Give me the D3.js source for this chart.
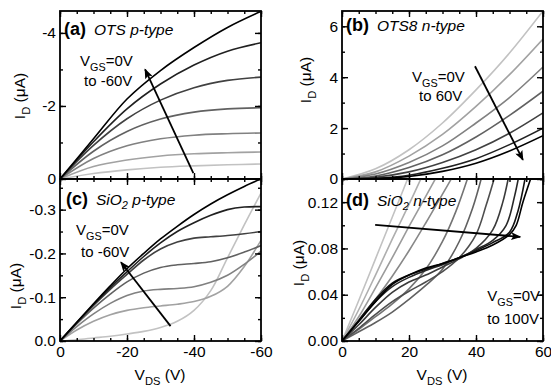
<!DOCTYPE html>
<html>
<head>
<meta charset="utf-8">
<script src="https://cdn.jsdelivr.net/npm/d3@7"></script>
<style>
  body { margin: 0; background: #fff; }
  svg { display: block; }
  text { font-family: "Liberation Sans", Arial, Helvetica, sans-serif; fill: #000; }
</style>
</head>
<body>
<svg id="chart" width="551" height="386"></svg>
<script>
// ---------- data ----------
// (a) OTS p-type, I_D in uA vs V_DS, V_GS = 0 .. -60 V
const vdsA = [0, -10, -20, -30, -40, -50, -60];
const vgsA = [0, -10, -20, -30, -40, -50, -60];
const idA = [
  [0, -0.15, -0.25, -0.32, -0.36, -0.39, -0.41],
  [0, -0.34, -0.52, -0.63, -0.69, -0.72, -0.74],
  [0, -0.56, -0.91, -1.10, -1.20, -1.24, -1.26],
  [0, -0.76, -1.30, -1.64, -1.83, -1.92, -1.95],
  [0, -0.92, -1.65, -2.16, -2.50, -2.70, -2.79],
  [0, -1.02, -1.92, -2.60, -3.12, -3.50, -3.73],
  [0, -1.10, -2.19, -2.97, -3.60, -4.15, -4.59]
];

// (b) OTS8 n-type, V_GS = 0 .. 60 V
const vdsB = [0, 10, 20, 30, 40, 50, 60];
const vgsB = [0, 10, 20, 30, 40, 50, 60];
const idB = [
  [0, 0.40, 1.15, 2.20, 3.50, 4.95, 6.60],
  [0, 0.28, 0.90, 1.75, 2.85, 4.10, 5.50],
  [0, 0.20, 0.65, 1.30, 2.20, 3.20, 4.40],
  [0, 0.12, 0.45, 0.95, 1.65, 2.50, 3.45],
  [0, 0.07, 0.28, 0.65, 1.15, 1.80, 2.60],
  [0, 0.03, 0.15, 0.42, 0.80, 1.35, 2.00],
  [0, 0.02, 0.10, 0.30, 0.62, 1.10, 1.70]
];

// (c) SiO2 p-type, V_GS = 0 .. -60 V
const vdsC = [0, -5, -10, -15, -20, -25, -30, -35, -40, -45, -50, -55, -60];
const vgsC = [0, -10, -20, -30, -40, -50, -60];
const idC = [
  [0, -0.003, -0.007, -0.011, -0.016, -0.022, -0.031, -0.045, -0.070, -0.115, -0.190, -0.265, -0.338],
  [0, -0.025, -0.045, -0.060, -0.070, -0.076, -0.080, -0.084, -0.090, -0.102, -0.125, -0.170, -0.230],
  [0, -0.033, -0.062, -0.086, -0.104, -0.114, -0.118, -0.120, -0.124, -0.134, -0.150, -0.175, -0.205],
  [0, -0.039, -0.075, -0.107, -0.135, -0.155, -0.168, -0.174, -0.177, -0.181, -0.190, -0.203, -0.218],
  [0, -0.041, -0.081, -0.118, -0.152, -0.185, -0.210, -0.226, -0.235, -0.238, -0.241, -0.245, -0.250],
  [0, -0.042, -0.083, -0.122, -0.158, -0.193, -0.224, -0.250, -0.270, -0.287, -0.300, -0.306, -0.307],
  [0, -0.043, -0.085, -0.126, -0.165, -0.200, -0.233, -0.262, -0.289, -0.313, -0.334, -0.353, -0.370]
];

// (d) SiO2 n-type, V_GS = 0 .. 100 V, [V_DS, I_D] pairs (curves leave the top of the box)
const vgsD = [0, 10, 20, 30, 40, 50, 60, 70, 80, 90, 100];
const idD = [
  [[0, 0], [5, 0.035], [10, 0.071], [15, 0.107], [20, 0.143]],
  [[0, 0], [5, 0.027], [10, 0.057], [15, 0.088], [20, 0.118], [24, 0.143]],
  [[0, 0], [5, 0.021], [10, 0.046], [15, 0.072], [20, 0.099], [25, 0.125], [29, 0.146]],
  [[0, 0], [5, 0.017], [10, 0.036], [15, 0.056], [20, 0.078], [25, 0.102], [30, 0.127], [34, 0.147]],
  [[0, 0], [5, 0.010], [10, 0.021], [15, 0.032], [20, 0.045], [25, 0.062], [30, 0.086], [34, 0.112], [38, 0.145]],
  [[0, 0], [5, 0.008], [10, 0.016], [15, 0.025], [20, 0.036], [25, 0.048], [30, 0.062], [35, 0.086], [39, 0.115], [42, 0.145]],
  [[0, 0], [5, 0.011], [10, 0.023], [15, 0.034], [20, 0.043], [25, 0.051], [30, 0.060], [35, 0.072], [40, 0.092], [43, 0.117], [46, 0.146]],
  [[0, 0], [5, 0.014], [10, 0.029], [15, 0.042], [20, 0.051], [25, 0.057], [30, 0.064], [35, 0.071], [40, 0.080], [45, 0.096], [48, 0.120], [50, 0.146]],
  [[0, 0], [5, 0.017], [10, 0.034], [15, 0.047], [20, 0.055], [25, 0.061], [30, 0.066], [35, 0.072], [40, 0.079], [45, 0.087], [49, 0.100], [51.5, 0.125], [53, 0.146]],
  [[0, 0], [5, 0.018], [10, 0.036], [15, 0.050], [20, 0.057], [25, 0.062], [30, 0.067], [35, 0.072], [40, 0.078], [45, 0.085], [50, 0.094], [52.5, 0.112], [55, 0.146]],
  [[0, 0], [5, 0.017], [10, 0.034], [15, 0.049], [20, 0.057], [25, 0.063], [30, 0.067], [35, 0.072], [40, 0.077], [45, 0.083], [50, 0.092], [52, 0.100], [54, 0.120], [57, 0.146]]
];

// tick values and labels
const xTicksP = [0, -20, -40, -60], xLabelsP = ['0', '-20', '-40', '-60'];
const xTicksN = [0, 20, 40, 60], xLabelsN = ['0', '20', '40', '60'];
const yTicksA = [0, -2, -4], yLabelsA = ['0', '-2', '-4'];
const yTicksB = [0, 2, 4, 6], yLabelsB = ['0', '2', '4', '6'];
const yTicksC = [0, -0.1, -0.2, -0.3], yLabelsC = ['0.0', '-0.1', '-0.2', '-0.3'];
const yTicksD = [0, 0.04, 0.08, 0.12], yLabelsD = ['0.00', '0.04', '0.08', '0.12'];

// ---------- drawing ----------
const svg = d3.select('#chart');
const grays = n => d3.range(n).map(i => d3.interpolateRgb('#c2c2c2', '#000')(i / (n - 1)));

svg.append('defs').append('marker')
  .attr('id', 'head')
  .attr('viewBox', '0 0 10 8')
  .attr('refX', 9).attr('refY', 4)
  .attr('markerUnits', 'userSpaceOnUse')
  .attr('markerWidth', 11).attr('markerHeight', 8)
  .attr('orient', 'auto')
  .append('path').attr('d', 'M0,0 L10,4 L0,8 L2,4 Z').attr('fill', '#000');

function sub(t, main, s, rest, size) {
  t.append('tspan').text(main);
  t.append('tspan').text(s).attr('font-size', size * 0.72).attr('dy', size * 0.3);
  if (rest) t.append('tspan').text(rest).attr('dy', -size * 0.3);
}

function panel(p) {
  const x = d3.scaleLinear().domain(p.xDomain).range([p.x0, p.x1]);
  const y = d3.scaleLinear().domain(p.yDomain).range([p.y1, p.y0]);
  const g = svg.append('g');

  const clipId = 'clip-' + p.id;
  svg.select('defs').append('clipPath').attr('id', clipId)
    .append('rect').attr('x', p.x0).attr('y', p.y0)
    .attr('width', p.x1 - p.x0).attr('height', p.y1 - p.y0);

  // curves
  const line = d3.line().x(d => x(d[0])).y(d => y(d[1])).curve(d3.curveCatmullRom.alpha(0.5));
  const colors = grays(p.series.length);
  g.append('g').attr('clip-path', `url(#${clipId})`)
    .selectAll('path').data(p.series).join('path')
    .attr('d', line)
    .attr('fill', 'none')
    .attr('stroke', (d, i) => colors[i])
    .attr('stroke-width', 1.6);

  // ticks on four sides, pointing inward
  const minorX = d3.range(0, 61, 5).map(v => v * Math.sign(p.xDomain[1]));
  const minorY = d3.range(0, Math.abs(p.yDomain[1]) + 1e-9, p.yMinor).map(v => v * Math.sign(p.yDomain[1]));
  const axes = g.append('g');
  const put = (axis, tx, ty) => axes.append('g').attr('transform', `translate(${tx},${ty})`).call(axis);

  put(d3.axisLeft(y).tickValues(p.yTicks).tickSizeInner(-6).tickSizeOuter(0).tickPadding(4)
    .tickFormat((d, i) => p.yLabels[i]), p.x0, 0);
  put(d3.axisLeft(y).tickValues(minorY).tickSize(-3).tickFormat(''), p.x0, 0);
  put(d3.axisRight(y).tickValues(p.yTicks).tickSize(-6).tickFormat(''), p.x1, 0);
  put(d3.axisRight(y).tickValues(minorY).tickSize(-3).tickFormat(''), p.x1, 0);
  put(d3.axisTop(x).tickValues(p.xTicks).tickSize(-6).tickFormat(''), 0, p.y0);
  put(d3.axisTop(x).tickValues(minorX).tickSize(-3).tickFormat(''), 0, p.y0);
  put(d3.axisBottom(x).tickValues(p.xTicks).tickSizeInner(-6).tickSizeOuter(0).tickPadding(5)
    .tickFormat((d, i) => p.xLabels ? p.xLabels[i] : ''), 0, p.y1);
  put(d3.axisBottom(x).tickValues(minorX).tickSize(-3).tickFormat(''), 0, p.y1);

  axes.selectAll('.domain').remove();
  axes.selectAll('.tick line').attr('stroke', '#000').attr('stroke-width', 1.4);
  axes.selectAll('text').attr('font-size', 15.5).attr('font-family', null);

  // frame
  g.append('rect').attr('x', p.x0).attr('y', p.y0)
    .attr('width', p.x1 - p.x0).attr('height', p.y1 - p.y0)
    .attr('fill', 'none').attr('stroke', '#000').attr('stroke-width', 1.8);

  // arrow
  g.append('line')
    .attr('x1', x(p.arrow[0][0])).attr('y1', y(p.arrow[0][1]))
    .attr('x2', x(p.arrow[1][0])).attr('y2', y(p.arrow[1][1]))
    .attr('stroke', '#000').attr('stroke-width', 1.8)
    .attr('marker-end', 'url(#head)');

  // panel title
  const t = g.append('text').attr('x', p.title.x).attr('y', p.title.y);
  t.append('tspan').text(p.title.tag).attr('font-weight', 'bold').attr('font-size', 18);
  const it = t.append('tspan').attr('font-style', 'italic').attr('font-size', 15.5).attr('dx', 8);
  if (p.title.sub) {
    it.append('tspan').text(p.title.pre);
    it.append('tspan').text('2').attr('font-size', 11).attr('dy', 4);
    it.append('tspan').text(p.title.post).attr('dy', -4);
  } else {
    it.text(p.title.pre);
  }

  // V_GS annotation
  const a1 = g.append('text').attr('x', p.vgs.x1).attr('y', p.vgs.y1)
    .attr('font-size', 15).attr('text-anchor', p.vgs.anchor);
  sub(a1, 'V', 'GS', '=0V', 15);
  g.append('text').attr('x', p.vgs.x2).attr('y', p.vgs.y2)
    .attr('font-size', 15).attr('text-anchor', p.vgs.anchor).text(p.vgs.line2);

  // y label
  const yl = g.append('text').attr('font-size', 15.5).attr('text-anchor', 'middle')
    .attr('transform', `translate(${p.yl[0]},${p.yl[1]}) rotate(-90)`);
  sub(yl, 'I', 'D', ' (\u03bcA)', 15.5);

  // x label
  if (p.xl) {
    const xl = g.append('text').attr('font-size', 15.5).attr('text-anchor', 'middle')
      .attr('x', p.xl[0]).attr('y', p.xl[1]);
    sub(xl, 'V', 'DS', ' (V)', 15.5);
  }
}

panel({
  id: 'a', x0: 60, x1: 261, y0: 11, y1: 179,
  xDomain: [0, -60], yDomain: [0, -4.6], yMinor: 1,
  series: idA.map(r => r.map((v, i) => [vdsA[i], v])),
  xTicks: xTicksP, yTicks: yTicksA, yLabels: yLabelsA,
  arrow: [[-39.8, -0.16], [-25.4, -3.0]],
  title: { x: 64, y: 35, tag: '(a)', pre: 'OTS p-type' },
  vgs: { x1: 80, y1: 66, x2: 84, y2: 86, anchor: 'start', line2: 'to -60V' },
  yl: [25, 96]
});

panel({
  id: 'c', x0: 60, x1: 261, y0: 179, y1: 341,
  xDomain: [0, -60], yDomain: [0, -0.37], yMinor: 0.05,
  series: idC.map(r => r.map((v, i) => [vdsC[i], v])),
  xTicks: xTicksP, xLabels: xLabelsP, yTicks: yTicksC, yLabels: yLabelsC,
  arrow: [[-33, -0.034], [-18.2, -0.18]],
  title: { x: 66, y: 205, tag: '(c)', pre: 'SiO', sub: true, post: ' p-type' },
  vgs: { x1: 76, y1: 235, x2: 81, y2: 257, anchor: 'start', line2: 'to -60V' },
  yl: [21, 286], xl: [160, 380]
});

panel({
  id: 'b', x0: 342, x1: 543, y0: 11, y1: 179,
  xDomain: [0, 60], yDomain: [0, 6.6], yMinor: 1,
  series: idB.map(r => r.map((v, i) => [vdsB[i], v])),
  xTicks: xTicksN, yTicks: yTicksB, yLabels: yLabelsB,
  arrow: [[39.7, 4.43], [54, 0.75]],
  title: { x: 346, y: 31, tag: '(b)', pre: 'OTS8 n-type' },
  vgs: { x1: 412, y1: 82, x2: 419, y2: 101, anchor: 'start', line2: 'to 60V' },
  yl: [311, 80]
});

panel({
  id: 'd', x0: 342, x1: 543, y0: 179, y1: 341,
  xDomain: [0, 60], yDomain: [0, 0.14], yMinor: 0.02,
  series: idD,
  xTicks: xTicksN, xLabels: xLabelsN, yTicks: yTicksD, yLabels: yLabelsD,
  arrow: [[9.9, 0.1003], [53.2, 0.090]],
  title: { x: 346, y: 206, tag: '(d)', pre: 'SiO', sub: true, post: ' n-type' },
  vgs: { x1: 540, y1: 301, x2: 539, y2: 324, anchor: 'end', line2: 'to 100V' },
  yl: [304, 263], xl: [442, 380]
});
</script>
</body>
</html>
